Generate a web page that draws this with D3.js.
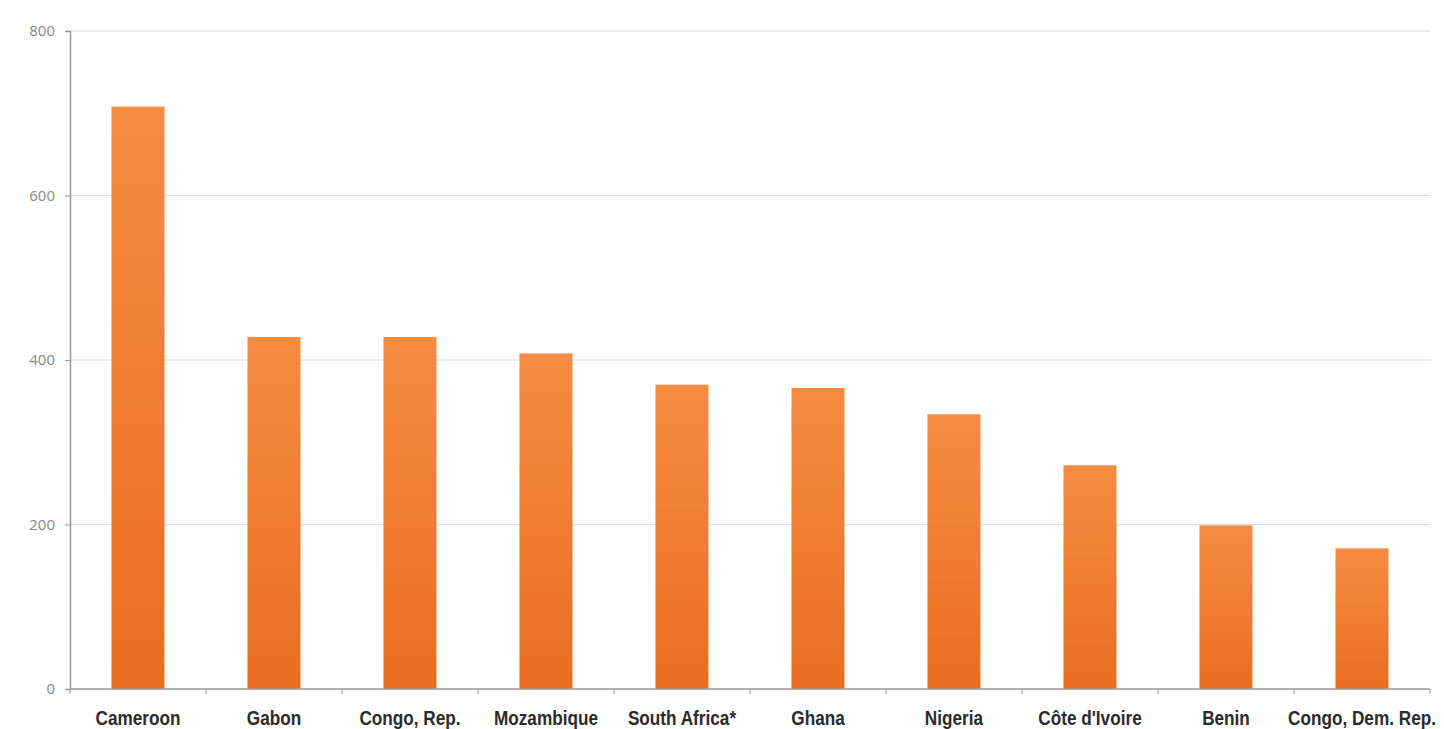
<!DOCTYPE html>
<html><head><meta charset="utf-8">
<script src="https://cdn.jsdelivr.net/npm/d3@7"></script>
<style>
html,body{margin:0;padding:0;background:#fff;overflow:hidden;}
svg{display:block;}
</style></head>
<body>
<svg id="chart" width="1444" height="729"></svg>
<script>
const categories = ["Cameroon","Gabon","Congo, Rep.","Mozambique","South Africa*","Ghana","Nigeria","Côte d'Ivoire","Benin","Congo, Dem. Rep."];
const values = [708, 428, 428, 408, 370, 366, 334, 272, 199, 171];
const yTicks = [0, 200, 400, 600, 800];

(function(){
const svg = d3.select("#chart");
const mLeft = 70, mRight = 1430, mTop = 31, mBottom = 689;

const defs = svg.append("defs");
const grad = defs.append("linearGradient").attr("id","barGrad").attr("x1",0).attr("y1",0).attr("x2",0).attr("y2",1);
grad.append("stop").attr("offset","0%").attr("stop-color","#f48c42");
grad.append("stop").attr("offset","100%").attr("stop-color","#ea6e1f");

const x = d3.scaleBand().domain(categories).range([mLeft, mRight]).paddingInner(0.61).paddingOuter(0.305);
const y = d3.scaleLinear().domain([0, 800]).range([mBottom, mTop]);

// gridlines
svg.append("g").selectAll("line").data(yTicks.filter(d => d > 0)).join("line")
  .attr("x1", mLeft).attr("x2", mRight)
  .attr("y1", d => y(d)).attr("y2", d => y(d))
  .attr("stroke", "#d9d9d9").attr("stroke-width", 1);

// bars
svg.append("g").selectAll("rect").data(values).join("rect")
  .attr("x", (d,i) => x(categories[i]))
  .attr("y", d => y(d))
  .attr("width", x.bandwidth())
  .attr("height", d => mBottom - y(d))
  .attr("fill", "url(#barGrad)");

// y axis
const yAxis = d3.axisLeft(y).tickValues(yTicks).tickSize(5).tickPadding(10);
const gy = svg.append("g").attr("transform", `translate(${mLeft},0)`).call(yAxis);
gy.select(".domain").attr("stroke", "#999").attr("stroke-width", 1.5);
gy.selectAll(".tick line").attr("stroke", "#999");
gy.selectAll(".tick text").attr("fill", "#8a8a8a").attr("font-family", "Open Sans, sans-serif").attr("font-size", 15);

// x axis
const xTickPositions = d3.range(categories.length + 1).map(i => mLeft + i * x.step());
const xAxisG = svg.append("g");
xAxisG.append("line").attr("x1", mLeft).attr("x2", mRight).attr("y1", mBottom).attr("y2", mBottom)
  .attr("stroke", "#999").attr("stroke-width", 1.5);
xAxisG.selectAll("line.t").data(xTickPositions).join("line").attr("class","t")
  .attr("x1", d => d).attr("x2", d => d).attr("y1", mBottom).attr("y2", mBottom + 5)
  .attr("stroke", "#999");
xAxisG.selectAll("text").data(categories).join("text")
  .attr("transform", d => `translate(${x(d) + x.bandwidth()/2},725) scale(0.86,1)`)
  .attr("text-anchor", "middle")
  .attr("font-family", "Liberation Sans, Arial, sans-serif")
  .attr("font-weight", "bold")
  .attr("font-size", 20)
  .attr("fill", "#2b2b2b")
  .text(d => d);
})();
</script>
</body></html>
